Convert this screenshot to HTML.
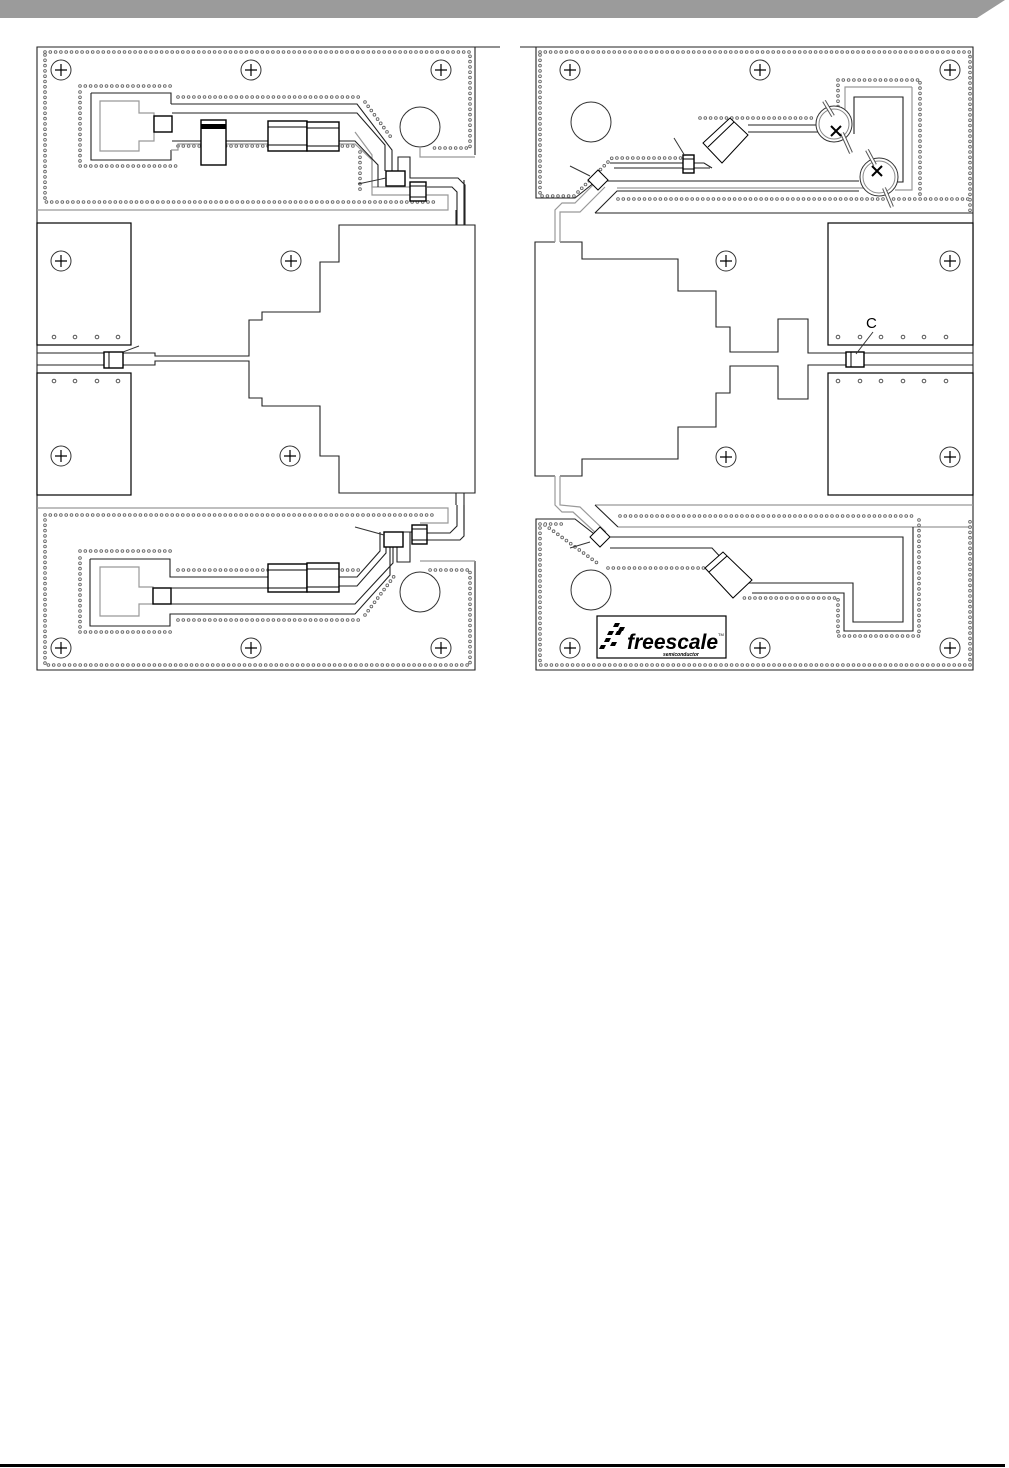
<!DOCTYPE html>
<html><head><meta charset="utf-8"><style>
html,body{margin:0;padding:0;background:#fff;}
svg{display:block;}
.d{fill:none;stroke:#222;stroke-width:1.1}
.g{fill:none;stroke:#999;stroke-width:1.2}
.k{fill:#fff;stroke:#000;stroke-width:1.4}
.v1{fill:none;stroke:#666;stroke-width:3.6;stroke-dasharray:0 5.3;stroke-linecap:round}
.v2{fill:none;stroke:#fff;stroke-width:1.8;stroke-dasharray:0 5.3;stroke-linecap:round}
.h{fill:#fff;stroke:#333;stroke-width:1}
.lbl{font-family:"Liberation Sans",sans-serif;}
</style></head><body>
<svg width="1009" height="1468" viewBox="0 0 1009 1468" xmlns="http://www.w3.org/2000/svg">
<defs>
<g id="hole"><circle r="10" class="h"/><path d="M-6,0H6M0,-6V6" stroke="#000" stroke-width="1.2"/></g>
</defs>
<polygon points="0,0 1005,0 977,18 0,18" fill="#9b9b9b"/>
<rect x="0" y="1464" width="1005" height="3" fill="#000"/>

<!-- ===== LEFT BOARD ===== -->
<path class="d" d="M500,47H37V670H475V561M475,47V155"/>
<path class="g" d="M37,210H448V195H372V155L355,132"/>
<path class="g" d="M420,148V157H475"/>
<g>
<path class="v1" d="M45,52H470V148H430M45,55V202H435M80,86H172M80,92V166H176M178,97H360M178,146H355M365,102L393,140M360,152V193"/>
<path class="v2" d="M45,52H470V148H430M45,55V202H435M80,86H172M80,92V166H176M178,97H360M178,146H355M365,102L393,140M360,152V193"/>
</g>
<path class="d" d="M171,104H357L392,150V171M91,93H171V104M91,93V160H171V150"/>
<path class="g" d="M171,150H178V144H355L372,160V187H410"/>
<polygon class="g" points="100,101 139,101 139,113 154,113 154,141 139,141 139,151 100,151"/>
<path class="d" d="M172,113H357L385,145V171M172,141H268M339,141H355L378,165V187"/>
<path class="d" d="M398,171V157H410V178H458L465,185V225M427,187H452L457,192V225"/>
<circle cx="420" cy="127" r="20" fill="none" stroke="#333"/>
<rect x="154" y="116" width="18" height="16" class="k"/>
<rect x="201" y="120" width="25" height="45" class="k"/>
<rect x="201" y="124" width="25" height="5" fill="#000"/>
<rect x="268" y="121" width="39" height="30" class="k"/><path d="M268,127H307M268,145H307" stroke="#000"/>
<rect x="307" y="122" width="32" height="29" class="k"/><path d="M307,128H339M307,146H339" stroke="#000"/>
<rect x="386" y="171" width="19" height="15" class="k"/>
<rect x="410" y="182" width="16" height="19" class="k"/><path d="M410,186H426M410,197H426" stroke="#000"/>
<line x1="358" y1="184" x2="386" y2="178" stroke="#333"/>

<rect x="37" y="223" width="94" height="122" class="k" style="stroke-width:1.2"/>
<rect x="37" y="373" width="94" height="122" class="k" style="stroke-width:1.2"/>
<path class="d" d="M37,353H155V356H249V320H262V312H320V262H339V225H475V493H339V456H320V406H262V398H249V361H155V365H37"/>
<path class="d" d="M456,210V225M464,180V225M456,493V505M464,493V530"/>
<rect x="104" y="352" width="19" height="16" class="k"/><line x1="109" y1="352" x2="109" y2="368" stroke="#000"/>
<line x1="123" y1="352" x2="139" y2="346" stroke="#333"/>
<g fill="none" stroke="#555"><circle cx="54" cy="337" r="1.8"/><circle cx="75" cy="337" r="1.8"/><circle cx="97" cy="337" r="1.8"/><circle cx="118" cy="337" r="1.8"/>
<circle cx="54" cy="381" r="1.8"/><circle cx="75" cy="381" r="1.8"/><circle cx="97" cy="381" r="1.8"/><circle cx="118" cy="381" r="1.8"/></g>

<path class="g" d="M37,508H448V523H420"/>
<path class="g" d="M420,561H475"/>
<g>
<path class="v1" d="M45,515H435M45,520V665H470V570H430M80,551H175M80,558V628M80,632H175M178,570H360M178,620H360M365,615L395,575"/>
<path class="v2" d="M45,515H435M45,520V665H470V570H430M80,551H175M80,558V628M80,632H175M178,570H360M178,620H360M365,615L395,575"/>
</g>
<path class="d" d="M90,559H170V577H268M339,577H357L380,551V532M90,559V626H170V614H355L390,575V547"/>
<polygon class="g" points="100,567 139,567 139,587 153,587 153,604 139,604 139,616 100,616"/>
<path class="d" d="M171,588H268M339,586H357L386,553V547M171,604H355L393,563V547"/>
<path class="d" d="M402,532H412M397,547V562H410V532M427,533H450L457,526V505M427,540H460L464,536V505"/>
<circle cx="420" cy="592" r="20" fill="none" stroke="#333"/>
<rect x="153" y="588" width="18" height="16" class="k"/>
<rect x="268" y="564" width="39" height="28" class="k"/><path d="M268,570H307M268,588H307" stroke="#000"/>
<rect x="307" y="563" width="32" height="29" class="k"/><path d="M307,569H339M307,587H339" stroke="#000"/>
<rect x="384" y="532" width="19" height="15" class="k"/>
<rect x="412" y="525" width="15" height="19" class="k"/><path d="M412,529H427M412,540H427" stroke="#000"/>
<line x1="355" y1="527" x2="384" y2="535" stroke="#333"/>

<use href="#hole" x="61" y="70"/><use href="#hole" x="251" y="70"/><use href="#hole" x="441" y="70"/>
<use href="#hole" x="61" y="261"/><use href="#hole" x="291" y="261"/><use href="#hole" x="61" y="456"/><use href="#hole" x="290" y="456"/>
<use href="#hole" x="61" y="648"/><use href="#hole" x="251" y="648"/><use href="#hole" x="441" y="648"/>

<!-- ===== RIGHT BOARD ===== -->
<path class="d" d="M520,47H973V670H536V519H575L598,537M536,47V198H575L600,178"/>
<path class="d" d="M555,242H535V476H555M560,476H582V459H678V427H716V393H730V366H778V399H808V365H846M846,353H808V319H778V352H730V327H716V291H678V259H582V242H560"/>
<path class="g" d="M555,242V210L562,203H575L598,180M560,242V212H580L605,187"/>
<path class="g" d="M555,476V505L562,512H573L598,535M560,476V505L580,507L606,532"/>
<rect x="828" y="223" width="145" height="122" class="k" style="stroke-width:1.2"/>
<rect x="828" y="373" width="145" height="122" class="k" style="stroke-width:1.2"/>
<path class="d" d="M864,353H973M864,365H973"/>
<rect x="846" y="352" width="18" height="15" class="k"/><line x1="851" y1="352" x2="851" y2="367" stroke="#000"/>
<line x1="856" y1="354" x2="873" y2="332" stroke="#333"/>
<text x="866" y="328" class="lbl" font-size="15">C</text>
<g fill="none" stroke="#555"><circle cx="838" cy="337" r="1.8"/><circle cx="860" cy="337" r="1.8"/><circle cx="881" cy="337" r="1.8"/><circle cx="903" cy="337" r="1.8"/><circle cx="924" cy="337" r="1.8"/><circle cx="946" cy="337" r="1.8"/>
<circle cx="838" cy="381" r="1.8"/><circle cx="860" cy="381" r="1.8"/><circle cx="881" cy="381" r="1.8"/><circle cx="903" cy="381" r="1.8"/><circle cx="924" cy="381" r="1.8"/><circle cx="946" cy="381" r="1.8"/></g>

<path class="d" d="M595,213L617,191H859M595,213H973M605,181H859"/>
<path class="g" d="M617,188H870M912,87V190H895"/>
<path class="d" d="M610,163H704L712,168M614,168H710M748,125H816M748,132H818"/>
<path class="g" d="M845,130V87H912"/>
<path class="d" d="M854,134V97H903V182H897"/>
<g>
<path class="v1" d="M540,52H970V212M540,55V196H575M578,192L612,158H683M700,118H815M838,80H920V196M838,80V107M618,199H970"/>
<path class="v2" d="M540,52H970V212M540,55V196H575M578,192L612,158H683M700,118H815M838,80H920V196M838,80V107M618,199H970"/>
</g>
<circle cx="591" cy="122" r="20" fill="none" stroke="#333"/>
<g>
<circle cx="834" cy="124" r="18" fill="#fff" stroke="#333"/><circle cx="834" cy="124" r="15" fill="none" stroke="#888"/>
<path d="M824,101L833,116M842,133L851,153" stroke="#555" stroke-width="4" fill="none"/>
<path d="M824,101L833,116M842,133L851,153" stroke="#fff" stroke-width="2" fill="none"/>
<path d="M831,126L841,136M841,126L831,136" stroke="#000" stroke-width="2"/>
<circle cx="879" cy="177" r="19" fill="#fff" stroke="#333"/><circle cx="879" cy="177" r="16" fill="none" stroke="#888"/>
<path d="M867,150L875,165M884,188L892,207" stroke="#555" stroke-width="4" fill="none"/>
<path d="M867,150L875,165M884,188L892,207" stroke="#fff" stroke-width="2" fill="none"/>
<path d="M872,166L882,176M882,166L872,176" stroke="#000" stroke-width="2"/>
</g>
<polygon points="703,143 730,118 748,135 722,163" class="k" style="stroke-width:1"/>
<line x1="708" y1="147" x2="734" y2="122" stroke="#000"/>
<rect x="683" y="155" width="11" height="18" class="k"/><path d="M683,159H694M683,169H694" stroke="#000"/>
<line x1="674" y1="138" x2="685" y2="156" stroke="#333"/>
<polygon points="598,170 608,180 598,190 588,180" class="k" style="stroke-width:1"/>
<line x1="570" y1="166" x2="590" y2="176" stroke="#333"/>

<path class="g" d="M595,505H973M618,527H973"/>
<path class="d" d="M595,505L618,527M610,537H903V622H853V583H748M610,548H712L725,562M752,593H844V631H913V527"/>
<g>
<path class="v1" d="M540,524H566M540,528V665H970V520M620,516H915M919,520V636H838V598H740M608,568H705M545,525L600,565"/>
<path class="v2" d="M540,524H566M540,528V665H970V520M620,516H915M919,520V636H838V598H740M608,568H705M545,525L600,565"/>
</g>
<polygon points="705,568 723,552 752,580 733,598" class="k" style="stroke-width:1"/>
<line x1="709" y1="572" x2="727" y2="556" stroke="#000"/>
<polygon points="600,527 610,537 600,547 590,537" class="k" style="stroke-width:1"/>
<line x1="570" y1="548" x2="590" y2="542" stroke="#333"/>
<circle cx="591" cy="590" r="20" fill="none" stroke="#333"/>
<rect x="597" y="616" width="129" height="42" fill="#fff" stroke="#000" stroke-width="1.2"/>
<g fill="#000">
<polygon points="615,623 620,623 618,627 613,627"/><polygon points="620,627 625,627 623,631 618,631"/>
<polygon points="609,631 614,631 612,635 607,635"/><polygon points="617,631 622,631 620,635 615,635"/>
<polygon points="606,638 611,638 609,642 604,642"/><polygon points="612,642 617,642 615,646 610,646"/>
<polygon points="601,645 606,645 604,649 599,649"/>
</g>
<text x="627" y="649" class="lbl" font-size="21" font-weight="bold" font-style="italic">freescale</text>
<text x="718" y="636" class="lbl" font-size="4">TM</text>
<text x="663" y="656" class="lbl" font-size="5" font-weight="bold" font-style="italic">semiconductor</text>

<use href="#hole" x="570" y="70"/><use href="#hole" x="760" y="70"/><use href="#hole" x="950" y="70"/>
<use href="#hole" x="726" y="261"/><use href="#hole" x="950" y="261"/><use href="#hole" x="726" y="457"/><use href="#hole" x="950" y="457"/>
<use href="#hole" x="570" y="648"/><use href="#hole" x="760" y="648"/><use href="#hole" x="950" y="648"/>
</svg>
</body></html>
